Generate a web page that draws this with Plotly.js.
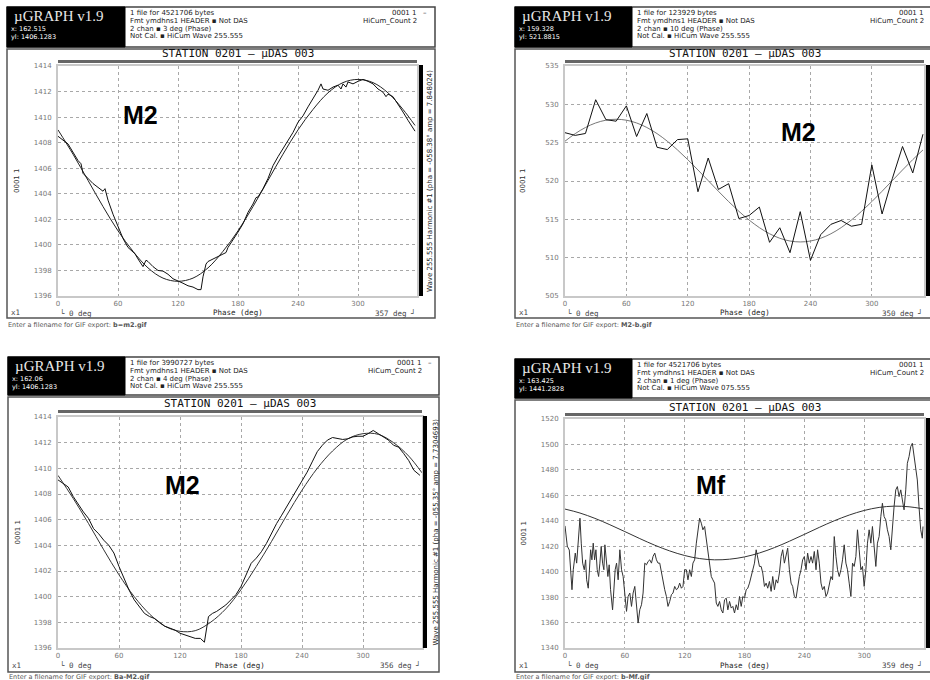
<!DOCTYPE html>
<html><head><meta charset="utf-8">
<script src="https://cdn.plot.ly/plotly-3.0.1.min.js"></script>
<style>html,body{margin:0;padding:0;background:#fff}#c{width:930px;height:680px}</style>
</head><body><div id="c"></div>
<script>
// ---------- DATA ----------
// Panel 1 (M2, 3 deg bins)
const P1_DEG = [0,10,20,23,25,30,35,40,45,47,50,55,60,65,70,75,77,80,85,88,90,95,100,105,110,115,120,125,130,135,140,143,145,148,150,155,160,165,168,170,175,180,185,190,195,198,200,205,210,215,220,225,230,235,240,245,250,255,260,263,265,270,275,280,283,285,288,290,295,300,305,310,315,320,325,328,330,335,340,345,350,355,357];
const P1_VAL = [1408.5,1407.9,1406.6,1406.35,1405.6,1405.2,1404.8,1404.5,1404.2,1404.4,1403.5,1402.4,1401.4,1400.5,1399.8,1399.4,1399.3,1398.9,1398.3,1398.8,1398.7,1398.3,1398.0,1397.95,1397.7,1397.35,1397.2,1397.0,1396.8,1396.7,1396.5,1396.5,1397.5,1398.5,1398.7,1398.9,1399.05,1399.3,1399.4,1399.8,1400.35,1401.0,1401.65,1402.55,1403.2,1403.7,1403.75,1404.4,1405.2,1406.2,1406.9,1407.5,1408.2,1408.8,1409.6,1410.1,1410.8,1411.4,1412.1,1412.6,1412.2,1412.1,1412.35,1412.5,1412.2,1412.6,1412.35,1412.75,1412.6,1412.8,1412.95,1412.8,1412.6,1412.2,1411.95,1411.6,1411.8,1411.6,1411.05,1410.4,1409.75,1409.2,1408.9];
const P1_FIT_DEG = [0,15,30,45,60,75,90,105,120,135,150,165,180,195,210,225,240,255,270,285,300,315,330,345,357];
const P1_FIT = [1409.0,1407.1,1405.05,1403.0,1401.1,1399.5,1398.2,1397.4,1397.15,1397.4,1398.2,1399.5,1401.1,1403.0,1405.05,1407.1,1409.0,1410.6,1411.9,1412.7,1412.95,1412.7,1411.9,1410.6,1409.35];

// Panel 2 (M2, 10 deg bins)
const P2_DEG = [0,10,20,30,40,50,60,70,80,90,100,110,120,130,140,150,160,170,180,190,200,210,220,230,240,250,260,270,280,290,300,310,320,330,340,350];
const P2_VAL = [526.3,525.95,526.2,530.6,528.0,527.8,529.8,525.8,528.8,524.4,524.1,525.4,525.5,518.6,523.0,518.9,519.65,515.1,515.5,516.6,512.0,513.9,510.65,516.0,509.65,513.0,514.35,514.85,514.1,514.35,522.1,515.7,520.3,524.5,521.05,526.1];
const P2_FIT = [525.19,526.18,526.98,527.57,527.93,528.05,527.93,527.57,526.98,526.18,525.19,524.05,522.79,521.44,520.05,518.66,517.31,516.05,514.91,513.92,513.12,512.53,512.17,512.05,512.17,512.53,513.12,513.92,514.91,516.05,517.31,518.66,520.05,521.44,522.79,524.05];

// Panel 3 (M2, 4 deg bins)
const P3_DEG = [0,10,15,20,25,30,35,40,45,50,55,60,65,70,75,80,85,90,95,100,105,110,115,120,125,130,135,140,144,148,152,156,160,165,170,175,180,185,190,195,200,205,210,215,220,225,230,235,240,245,250,255,260,265,270,275,280,285,290,295,300,305,310,315,320,325,330,335,340,345,350,356];
const P3_VAL = [1409.1,1408.55,1407.8,1407.15,1406.6,1406.1,1405.3,1404.9,1404.4,1404.0,1403.4,1402.35,1401.45,1400.5,1399.75,1399.2,1398.7,1398.45,1398.3,1398.0,1397.7,1397.55,1397.4,1397.15,1397.0,1396.9,1396.75,1396.75,1396.45,1398.45,1398.7,1398.85,1399.1,1399.35,1399.75,1400.15,1400.8,1401.7,1402.6,1403.0,1403.5,1404.15,1404.95,1405.7,1406.35,1407.0,1407.65,1408.4,1408.95,1409.7,1410.5,1411.3,1411.8,1412.2,1412.4,1412.3,1412.25,1412.3,1412.45,1412.5,1412.5,1412.7,1412.95,1412.7,1412.45,1412.2,1411.8,1411.65,1411.15,1410.6,1409.85,1409.45];
const P3_FIT_DEG = [0,15,30,45,60,75,90,105,120,135,150,165,180,195,210,225,240,255,270,285,300,315,330,345,358];
const P3_FIT = [1409.45,1407.65,1405.7,1403.65,1401.7,1400.0,1398.65,1397.7,1397.3,1397.35,1398.0,1399.05,1400.55,1402.35,1404.3,1406.35,1408.3,1410.0,1411.35,1412.3,1412.7,1412.65,1412.0,1410.95,1409.65];

// Panel 4 (Mf, 1 deg bins)
const P4_DEG = [0,2.3,4.3,5.7,7,8.3,10.3,11.7,13.3,15,16.3,17.7,19.3,20.7,21.7,23.3,24.3,25.7,27,28.3,29.7,31,32.3,33.7,35,36.3,37.7,39,40,41.7,43,44.3,45.7,47.7,49,50.3,51.7,53.3,55,56.7,58.3,60,61.7,63.3,65,66.7,68.3,70,71.7,73.3,75,76.7,78.3,80,81.7,83.3,85,86.7,88.3,90,91.7,93.3,95,96.7,98.3,100,101.7,103.3,105,106.7,108.3,110,111.7,113.3,115,116.7,118.3,120,121.7,123.3,125,126.7,128.3,130,131.7,133.3,135,136.7,138.3,140,141.7,143.3,145,146.7,148.3,150,151.7,153.3,155,156.7,158.3,160,161.7,163.3,165,166.7,168.3,170,171.7,173.3,175,176.7,178.3,180,181.7,183.3,185,186.7,188.3,190,191.7,193.3,195,196.7,198.3,200,201.7,203.3,205,206.7,208.3,210,211.7,213.3,215,216.7,218.3,220,221.7,223.3,225,226.7,228.3,230,231.7,233.3,235,236.7,238.3,240,241.7,243.3,245,246.7,248.3,250,251.7,253.3,255,256.7,258.3,260,261.7,263.3,265,266.7,268.3,270,271.7,273.3,275,276.7,278.3,280,281.7,283.3,285,286.7,288.3,290,291.7,293.3,295,296.7,298.3,300,301.7,303.3,305,306.7,308.3,310,311.7,313.3,315,316.7,318.3,320,321.7,323.3,325,326.7,328.3,330,331.7,333.3,335,336.7,338.3,340,341.7,343.3,345,346.7,348.3,350,351.7,353.3,355,356.7,358.3,359];
const P4_VAL = [1436,1420,1417,1401.5,1385.8,1401.5,1414.6,1406.7,1427.6,1442,1422.4,1406.7,1401.5,1409.3,1393.6,1387,1398.9,1417.2,1409.3,1422.4,1409.3,1417.2,1401.5,1396.2,1406.7,1419.8,1406.7,1401.5,1421.1,1406.7,1396.2,1405.4,1385.8,1370,1385.8,1401.5,1406.7,1393.6,1417.2,1401.5,1396.2,1380.5,1368.8,1380.5,1383.2,1372.7,1383.2,1388.4,1372.7,1359.6,1370.1,1374,1383.2,1406.7,1405.4,1408,1409.3,1406.7,1412,1414.6,1409.3,1406.7,1406.7,1398.9,1391,1385.8,1380.5,1372.7,1376.6,1381.9,1383.2,1388.4,1385.8,1387,1391,1387,1388.4,1401.5,1401.5,1393.6,1401.5,1396.2,1406.7,1409.3,1422.4,1432.9,1442,1438.1,1432.9,1435.5,1425,1417.2,1406.7,1396.2,1393.6,1391,1375.3,1372.7,1376.6,1370,1367.5,1377.9,1379.2,1370,1376.6,1371.4,1372.7,1367.5,1374,1370,1380.5,1372.7,1380.5,1379.2,1385.8,1387,1391,1396.2,1401.5,1406.7,1417.2,1409.3,1404.1,1404.1,1398.9,1388.4,1391,1387,1392.3,1384.5,1396.2,1385.8,1393.6,1391,1398.9,1411.9,1417.2,1406.7,1411.9,1418.5,1401.5,1391,1388.4,1380.5,1379.2,1388.4,1396.2,1401.5,1409.3,1411.9,1401.5,1414.6,1406.7,1411.9,1406.7,1415.9,1401.5,1417.2,1406.7,1391,1385.8,1388.4,1380.5,1383.2,1391,1396.2,1393.6,1427.6,1411.9,1401.5,1396.2,1401.5,1409.3,1421.1,1406.7,1401.5,1391,1380.5,1406.7,1404.1,1411.9,1432.9,1417.2,1401.5,1404.1,1388.4,1401.5,1422.4,1432.9,1422.4,1435.5,1422.4,1404.1,1422.4,1427.6,1443.3,1453.8,1443.3,1440.7,1432.9,1427.6,1417.2,1438.1,1451.2,1464.3,1466.9,1459,1464.3,1456.4,1448.6,1464.3,1485.2,1490.4,1498.3,1500.9,1490.4,1479.9,1472.1,1451.2,1432.9,1426.3,1435.5];
const P4_FIT_DEG = [0,15,30,45,60,75,90,105,120,135,150,165,180,195,210,225,240,255,270,285,300,315,330,345,359];
const P4_FIT = [1449.2,1446.1,1441.9,1436.9,1431.5,1426.0,1420.8,1416.3,1412.7,1410.3,1409.3,1409.8,1411.6,1414.7,1418.9,1423.9,1429.3,1434.8,1440.0,1444.5,1448.1,1450.5,1451.5,1451.0,1449.4];

// Axis tick labels / texts
const X_TICKS = [0,60,120,180,240,300];
const LABELS = ['M2','M2','M2','Mf'];
const END_DEG = ['357 deg','350 deg','356 deg','359 deg'];
const GIF_NAMES = ['b=m2.gif','M2-b.gif','Ba-M2.gif','b-Mf.gif'];
const CURSOR_X = ['x: 162.515','x: 159.328','x: 162.06','x: 163.425'];
const CURSOR_Y = ['yl: 1406.1283','yl: 521.8815','yl: 1406.1283','yl: 1441.2828'];
const FILE_BYTES = ['4521706','123929','3990727','4521706'];
const BIN_TEXT = ['2 chan ▪ 3 deg (Phase)','2 chan ▪ 10 deg (Phase)','2 chan ▪ 4 deg (Phase)','2 chan ▪ 1 deg (Phase)'];
const WAVE_TEXT = ['Not Cal. ▪ HiCum Wave 255.555','Not Cal. ▪ HiCum Wave 255.555','Not Cal. ▪ HiCum Wave 255.555','Not Cal. ▪ HiCum Wave 075.555'];
const HARM_TEXT = ['Wave 255.555 Harmonic #1 (pha = -058.38° amp = 7.848024)', null, 'Wave 255.555 Harmonic #1 (pha = -055.35° amp = 7.7304693)', null];

// ---------- LAYOUT GEOMETRY ----------
const W=930,H=680;
const px=x=>x/W, py=y=>1-y/H;
const G = [
  {L:7,R:435,T:7,HB:47,B:318,BX:125,pl:58,pr:417,pt:66,pb:296,tY:54,bar:[60,63],rb:[419,423],rotX:430,yl:17,botY:313,gifY:325,lab:[140,115],infoR:418,xr:[0,359],yr:[1396,1414],dy:2},
  {L:515,R:945,T:7,HB:47,B:318,BX:632,pl:565,pr:924,pt:66,pb:296,tY:54,bar:[60,63],rb:[926,931],rotX:null,yl:523,botY:313,gifY:325,lab:[798,132],infoR:925,xr:[0,351],yr:[505,535],dy:5},
  {L:8,R:439,T:357,HB:395,B:672,BX:125,pl:58,pr:422,pt:417,pb:648,tY:403,bar:[410,413],rb:[423,427],rotX:435,yl:17,botY:665,gifY:677,lab:[182,485],infoR:423,xr:[0,358],yr:[1396,1414],dy:2},
  {L:515,R:945,T:359,HB:398,B:672,BX:632,pl:565,pr:924,pt:419,pb:648,tY:407,bar:[413,416],rb:[926,931],rotX:null,yl:523,botY:665,gifY:677,lab:[711,485],infoR:925,xr:[0,360],yr:[1340,1520],dy:20}
];

const shapes=[], ann=[];
function rect(x0,y0,x1,y1,o){shapes.push(Object.assign({type:'rect',xref:'paper',yref:'paper',x0:px(x0),x1:px(x1),y0:py(y1),y1:py(y0),line:{width:0},layer:'above'},o));}
function txt(x,y,text,o){const a=Object.assign({xref:'paper',yref:'paper',x:px(x),y:py(y),text:text,showarrow:false,xanchor:'left',yanchor:'middle',borderpad:0},o||{});a.font=Object.assign({family:'DejaVu Sans',size:7,color:'#333'},(o&&o.font)||{});ann.push(a);}

const layout={width:W,height:H,margin:{l:0,r:0,t:0,b:0,pad:0},paper_bgcolor:'#fff',plot_bgcolor:'#fff',showlegend:false,hovermode:false,font:{family:'DejaVu Sans',size:7,color:'#666'}};

G.forEach((g,i)=>{
  const n=i===0?'':String(i+1);
  const common={showgrid:true,gridcolor:'#a8a8a8',griddash:'dot',gridwidth:1,zeroline:false,showline:true,linecolor:'#c8c8c8',linewidth:2,mirror:true,tickfont:{family:'DejaVu Sans',size:7,color:'#777'},fixedrange:true};
  layout['xaxis'+n]=Object.assign({},common,{domain:[px(g.pl),px(g.pr)],range:g.xr,tickvals:X_TICKS,anchor:'y'+n,ticks:''});
  layout['yaxis'+n]=Object.assign({},common,{domain:[py(g.pb),py(g.pt)],range:g.yr,dtick:g.dy,tick0:g.yr[0],anchor:'x'+n,ticks:'outside',ticklen:3,tickcolor:'rgba(0,0,0,0)'});
  // frames
  rect(g.L,g.T,g.R,g.HB,{line:{color:'#444',width:1.5}});
  rect(g.L,g.T,g.BX,g.HB,{fillcolor:'#000',line:{color:'#000',width:1}});
  rect(g.L,g.HB+2,g.R,g.B,{line:{color:'#555',width:1.5}});
  // title bar + right bar
  rect(g.pl,g.bar[0],g.pr,g.bar[1],{fillcolor:'#666'});
  rect(g.rb[0],g.pt-1,g.rb[1],g.pb,{fillcolor:'#000'});
  // header texts
  txt(g.L+6,g.T+9,'µGRAPH v1.9',{font:{family:'Liberation Serif',size:15,color:'#e8e8e8'}});
  txt(g.L+3,g.T+22,CURSOR_X[i],{font:{size:6.5,color:'#fff'}});
  txt(g.L+3,g.T+30,CURSOR_Y[i],{font:{size:6.5,color:'#fff'}});
  const info=['1 file for '+FILE_BYTES[i]+' bytes','Fmt ymdhns1 HEADER ▪ Not DAS',BIN_TEXT[i],WAVE_TEXT[i]];
  info.forEach((s,k)=>txt(g.BX+4,g.T+6+7.8*k,s,{font:{color:'#222'}}));
  txt(g.infoR,g.T+6,'0001 1',{xanchor:'right',font:{color:'#222'}});
  if(g.R<W) txt(g.infoR+4,g.T+6,'–',{font:{color:'#222'}});
  txt(g.infoR,g.T+13.8,'HiCum_Count 2',{xanchor:'right',font:{color:'#222'}});
  // plot title
  txt((g.pl+g.pr)/2,g.tY,'STATION 0201 – µDAS 003',{xanchor:'center',font:{family:'DejaVu Sans Mono',size:11,color:'#111'}});
  // y label
  txt(g.yl,(g.pt+g.pb)/2,'0001 1',{xanchor:'center',textangle:-90,font:{color:'#333'}});
  // harmonic text
  if(HARM_TEXT[i]) txt(g.rotX,(g.pt+g.pb)/2,HARM_TEXT[i],{xanchor:'center',textangle:-90,font:{size:7,color:'#222'}});
  // bottom row
  txt(g.L+3,g.botY,'x1',{font:{family:'DejaVu Sans Mono',size:7.5,color:'#444'}});
  txt(g.pl+1,g.botY,'└ 0 deg',{font:{family:'DejaVu Sans Mono',size:7.5,color:'#444'}});
  txt((g.pl+g.pr)/2,g.botY,'Phase (deg)',{xanchor:'center',font:{family:'DejaVu Sans Mono',size:7.5,color:'#222'}});
  txt(g.pr,g.botY,END_DEG[i]+' ┘',{xanchor:'right',font:{family:'DejaVu Sans Mono',size:7.5,color:'#444'}});
  txt(g.L,g.gifY,'Enter a filename for GIF export: <b>'+GIF_NAMES[i]+'</b>',{font:{size:6.5,color:'#555'}});
  // big label
  txt(g.lab[0],g.lab[1],'<b>'+LABELS[i]+'</b>',{xanchor:'center',font:{family:'Liberation Sans',size:25,color:'#000'}});
});

const DATA=[[P1_FIT_DEG,P1_FIT,P1_DEG,P1_VAL],[P2_DEG,P2_FIT,P2_DEG,P2_VAL],[P3_FIT_DEG,P3_FIT,P3_DEG,P3_VAL],[P4_FIT_DEG,P4_FIT,P4_DEG,P4_VAL]];
const fitColors=['#222','#777','#333','#333'];
const traces=[];
DATA.forEach((d,i)=>{
  const n=i===0?'':String(i+1);
  traces.push({x:d[0],y:d[1],type:'scatter',mode:'lines',line:{color:fitColors[i],width:1,shape:'spline',smoothing:1},xaxis:'x'+n,yaxis:'y'+n});
  traces.push({x:d[2],y:d[3],type:'scatter',mode:'lines',line:{color:i===3?'#333':'#111',width:1},xaxis:'x'+n,yaxis:'y'+n});
});
layout.shapes=shapes; layout.annotations=ann;
Plotly.newPlot('c',traces,layout,{staticPlot:true,displayModeBar:false});
</script></body></html>
